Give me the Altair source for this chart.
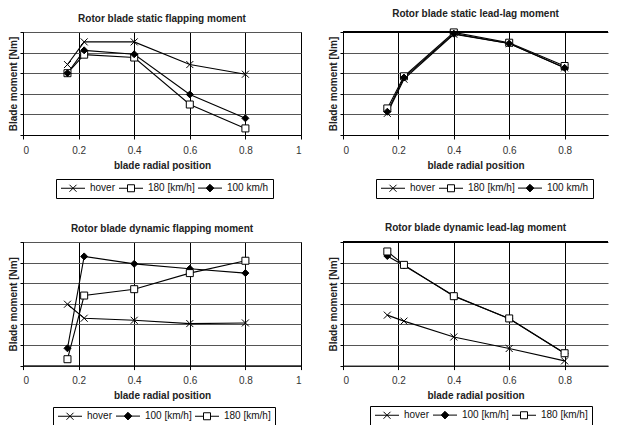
import altair as alt
import pandas as pd

# ---------------- data ----------------
x_pos = [0.16, 0.22, 0.4, 0.6, 0.8]

# static flapping moment
sf_hover = [3.42, 4.52, 4.52, 3.42, 2.95]
sf_180 = [3.00, 3.90, 3.76, 1.48, 0.32]
sf_100 = [3.00, 4.11, 3.92, 1.97, 0.81]

# static lead-lag moment
sl_hover = [1.05, 2.71, 4.89, 4.44, 3.26]
sl_180 = [1.29, 2.85, 4.98, 4.48, 3.35]
sl_100 = [1.13, 2.79, 4.92, 4.44, 3.26]

# dynamic flapping moment
df_hover = [2.98, 2.30, 2.20, 2.04, 2.07]
df_100 = [0.84, 5.30, 4.94, 4.70, 4.49]
df_180 = [0.31, 3.40, 3.71, 4.49, 5.09]

# dynamic lead-lag moment
dl_hover = [2.45, 2.16, 1.39, 0.83, 0.23]
dl_100 = [5.32, 4.86, 3.39, 2.27, 0.60]
dl_180 = [5.54, 4.89, 3.37, 2.29, 0.60]

x_ticks = [0, 0.2, 0.4, 0.6, 0.8, 1]

FONT = "Liberation Sans"

# marker shapes (plot) and legend symbols (line + marker)
PT = {
    "x": "M-1,-1L1,1M-1,1L1,-1",
    "sq": "square",
    "di": "diamond",
}
LEG = {
    "x": "M-1,0H5M1.125,-0.875L2.875,0.875M1.125,0.875L2.875,-0.875",
    "sq": "M-1,0H1.125M2.875,0H5M1.125,-0.875H2.875V0.875H1.125Z",
    "di": "M-1,0H5M1.05,0L2,-0.95L2.95,0L2,0.95Z",
}
FILL = {"x": "black", "sq": "white", "di": "black"}

RIGHT_W = 265


def panel(title, series, ymax, right, ytitle="Blade moment [Nm]", legend_xy=(33, 147)):
    rows = []
    for lab, kind, vals in series:
        for xv, yv in zip(x_pos, vals):
            rows.append({"x": xv, "y": yv, "s": lab})
    data = pd.DataFrame(rows)
    labels = [s[0] for s in series]
    kinds = [s[1] for s in series]

    if right:
        width = RIGHT_W
        xdom = [0, RIGHT_W / 277]
        xvals = x_ticks[:-1]
    else:
        width = 278
        xdom = [0, 1]
        xvals = x_ticks
    height = 20.6 * ymax

    x_enc = alt.X(
        "x:Q",
        scale=alt.Scale(domain=xdom, nice=False, zero=False),
        axis=alt.Axis(
            values=xvals, format="~g", grid=True, gridColor="black", gridWidth=1,
            title="blade radial position", tickSize=4, labelPadding=6, titlePadding=5,
        ),
    )
    y_enc = alt.Y(
        "y:Q",
        scale=alt.Scale(domain=[0, ymax], nice=False),
        axis=alt.Axis(
            values=list(range(ymax + 1)), labels=False, ticks=True, tickSize=3,
            grid=True, gridColor="#555", gridWidth=1, title=ytitle, titlePadding=1,
        ),
    )
    base = alt.Chart(data)
    line = base.mark_line(color="black", strokeWidth=1.1).encode(x=x_enc, y=y_enc, detail="s:N")
    pts = base.mark_point(filled=True, stroke="black", strokeWidth=1, size=49, opacity=1).encode(
        x=x_enc,
        y=y_enc,
        shape=alt.Shape("s:N", scale=alt.Scale(domain=labels, range=[PT[k] for k in kinds]), legend=None),
        fill=alt.Fill("s:N", scale=alt.Scale(domain=labels, range=[FILL[k] for k in kinds]), legend=None),
    )
    leg = (
        base.transform_filter("false")
        .mark_point(filled=True, strokeWidth=1)
        .encode(
            x=x_enc,
            y=y_enc,
            shape=alt.Shape(
                "s:N",
                scale=alt.Scale(domain=labels, range=[LEG[k] for k in kinds]),
                legend=alt.Legend(
                    title=None, orient="none", legendX=legend_xy[0], legendY=legend_xy[1],
                    direction="horizontal", symbolSize=64,
                    symbolStrokeWidth=1, strokeColor="black", padding=4, labelOffset=20,
                    columnPadding=1, labelFont=FONT, labelFontSize=10, labelColor="#111",
                    symbolOpacity=1,
                ),
            ),
            fill=alt.Fill(
                "s:N",
                scale=alt.Scale(domain=labels, range=[FILL[k] for k in kinds]),
                legend=alt.Legend(title=None),
            ),
            stroke=alt.Stroke(
                "s:N",
                scale=alt.Scale(domain=labels, range=["black"] * len(labels)),
                legend=alt.Legend(title=None),
            ),
        )
    )
    layers = [line, pts, leg]
    if right:
        border = base.mark_rule(color="black", strokeWidth=1.5).encode(
            x=alt.value(0), x2=alt.value(width), y=alt.value(0)
        )
        layers.append(border)
    ch = alt.layer(*layers).resolve_scale(
        shape="independent", fill="independent", stroke="independent"
    ).properties(width=width, height=height, title=title)
    if right:
        ch = ch.properties(view=alt.ViewBackground(stroke=None))
    else:
        ch = ch.properties(view=alt.ViewBackground(stroke="black", strokeWidth=1))
    return ch


p1 = panel(
    "Rotor blade static flapping moment",
    [("hover", "x", sf_hover), ("180 [km/h]", "sq", sf_180), ("100 km/h", "di", sf_100)],
    5, False,
)
p2 = panel(
    "Rotor blade static lead-lag moment",
    [("hover", "x", sl_hover), ("180 [km/h]", "sq", sl_180), ("100 km/h", "di", sl_100)],
    5, True,
)
p3 = panel(
    "Rotor blade dynamic flapping moment",
    [("hover", "x", df_hover), ("100 [km/h]", "di", df_100), ("180 [km/h]", "sq", df_180)],
    6, False, legend_xy=(30, 165),
)
p4 = panel(
    "Rotor blade dynamic lead-lag moment",
    [("hover", "x", dl_hover), ("100 [km/h]", "di", dl_100), ("180 [km/h]", "sq", dl_180)],
    6, True, legend_xy=(27, 164),
)

chart = (
    alt.vconcat(
        alt.hconcat(p1, p2, spacing=26),
        alt.hconcat(p3, p4, spacing=26),
        spacing=24,
    )
    .properties(padding=0)
    .configure_title(font=FONT, fontSize=10, fontWeight="bold", color="#222", offset=8, anchor="middle")
    .configure_axis(
        labelFont=FONT, labelFontSize=10, labelColor="#333", titleFont=FONT, titleFontSize=10,
        titleFontWeight="bold", titleColor="#222", domainColor="black", tickColor="black",
    )
    .configure_legend(labelFont=FONT)
)

chart.save("out.html", embed_options={"renderer": "svg", "actions": False})
